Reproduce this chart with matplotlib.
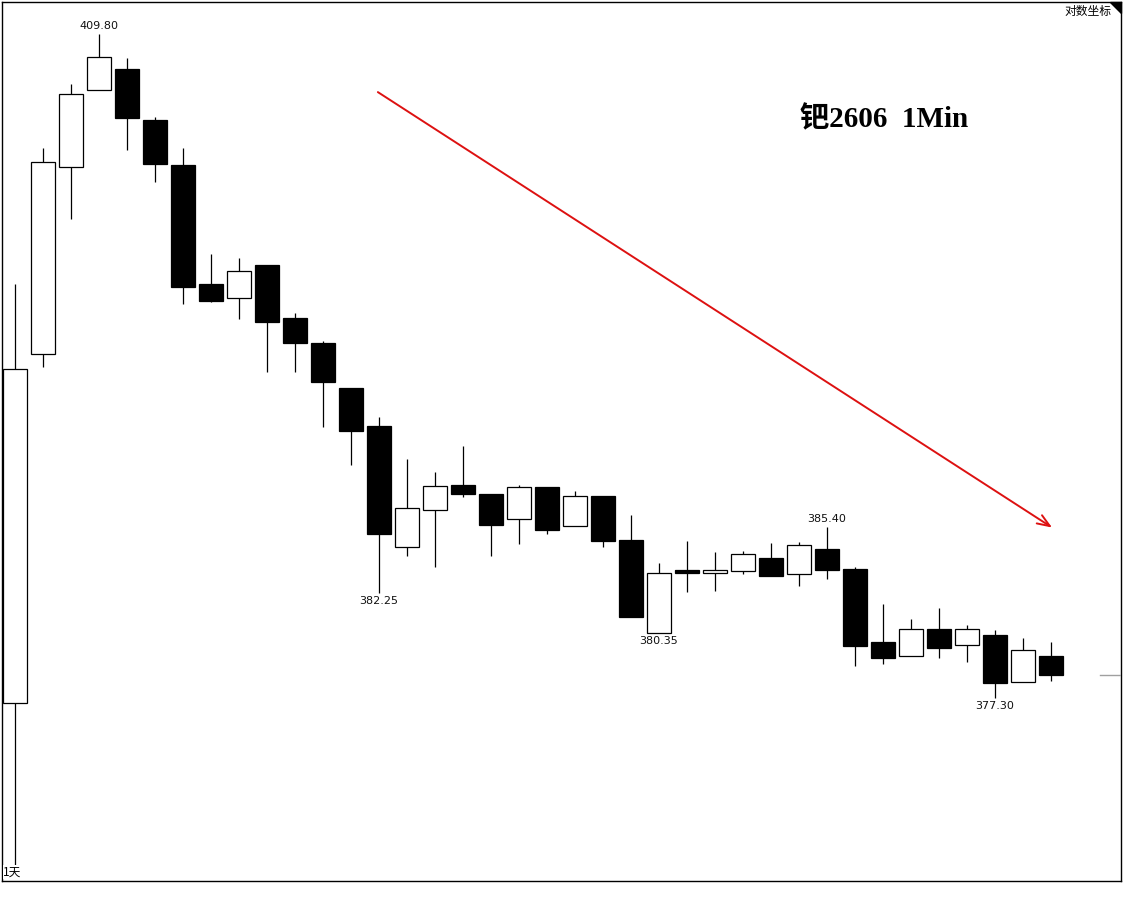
import matplotlib
matplotlib.use("Agg")
import matplotlib.pyplot as plt
from matplotlib.ticker import NullLocator
from matplotlib.patches import Polygon
import matplotlib.transforms as mtransforms

# ---- data (1-minute candles) ----
opens = [377.05, 393.80, 403.05, 406.95, 408.00, 405.45, 403.15, 397.25, 396.55, 398.20,
         395.55, 394.35, 392.15, 390.30, 384.45, 386.20, 387.45, 387.00, 385.80, 387.35,
         385.45, 386.90, 384.80, 380.35, 383.35, 383.20, 383.30, 383.90, 383.15, 384.35,
         383.40, 379.95, 379.25, 380.55, 379.80, 380.25, 378.05, 379.25]
highs = [397.25, 404.05, 407.25, 409.80, 408.60, 405.60, 404.05, 398.75, 398.55, 398.20,
         395.80, 394.45, 392.15, 390.70, 388.70, 388.05, 389.30, 387.00, 387.45, 387.35,
         387.15, 386.90, 386.00, 383.70, 384.75, 384.20, 384.25, 384.65, 384.70, 385.40,
         383.50, 381.75, 381.00, 381.55, 380.75, 380.50, 380.10, 379.95]
lows = [369.45, 393.15, 400.45, 406.95, 403.95, 402.30, 396.25, 396.35, 395.50, 392.90,
        392.90, 390.25, 388.40, 382.25, 384.00, 383.50, 386.85, 384.00, 384.60, 385.05,
        385.45, 384.45, 381.10, 380.35, 382.30, 382.35, 383.15, 383.05, 382.60, 382.90,
        378.80, 378.90, 379.25, 379.15, 379.00, 377.30, 378.05, 378.10]
closes = [393.05, 403.35, 406.75, 408.65, 405.55, 403.20, 397.10, 396.40, 397.90, 395.35,
          394.35, 392.45, 390.05, 385.05, 386.30, 387.40, 387.00, 385.50, 387.35, 385.25,
          386.90, 384.75, 381.10, 383.20, 383.20, 383.35, 384.10, 383.05, 384.55, 383.35,
          379.75, 379.15, 380.55, 379.65, 380.55, 378.00, 379.55, 378.35]

# price labels: (candle index, value, placed at 'high' or 'low')
marks = [(3, "409.80", "high"), (13, "382.25", "low"), (23, "380.35", "low"),
         (29, "385.40", "high"), (35, "377.30", "low")]

title_text = "钯2606  1Min"
scale_text = "对数坐标"
period_text = "1天"

# trend arrow (data coordinates: candle index, price)
arrow_start = (12.96, 406.85)
arrow_end = (37.04, 385.38)

y_limits = (368.79, 411.44)
x_limits = (-0.464, 39.5)

# ---- figure ----
W, H = 1125, 899
fig = plt.figure(figsize=(W / 100, H / 100), dpi=100)
fig.patch.set_facecolor("white")
ax = fig.add_axes([2 / W, 1 - 881 / H, 1119 / W, 879 / H])
ax.set_yscale("log")
ax.set_xlim(*x_limits)
ax.set_ylim(*y_limits)
ax.set_xticks([])
ax.set_yticks([])
ax.xaxis.set_minor_locator(NullLocator())
ax.yaxis.set_minor_locator(NullLocator())
for s in ax.spines.values():
    s.set_linewidth(1.0)
    s.set_color("black")

xs = list(range(len(opens)))
width = 24 / 28
lw = 0.9

# wicks
ax.vlines(xs, lows, highs, colors="black", linewidth=lw, zorder=2)

# bodies
for i in xs:
    o, c = opens[i], closes[i]
    up = c >= o
    bottom = min(o, c)
    height = abs(c - o)
    ax.bar(i, height, width=width, bottom=bottom,
           color="white" if up else "black", edgecolor="black",
           linewidth=lw, zorder=3)

# price labels
for i, txt, where in marks:
    if where == "high":
        ax.annotate(txt, xy=(i, highs[i]), xytext=(0, 2), textcoords="offset points",
                    ha="center", va="bottom", fontsize=8, color="#111111",
                    family="DejaVu Sans", zorder=5)
    else:
        ax.annotate(txt, xy=(i, lows[i]), xytext=(0, -2), textcoords="offset points",
                    ha="center", va="top", fontsize=8, color="#111111",
                    family="DejaVu Sans", zorder=5)

# red trend arrow
ax.annotate("", xy=arrow_end, xytext=arrow_start,
            arrowprops=dict(arrowstyle="->,head_length=0.9,head_width=0.35",
                            color="#dd1111", linewidth=1.4, shrinkA=0, shrinkB=0),
            zorder=6)

# title
ax.text((800 - 2) / 1119, 1 - (120 - 2) / 879, title_text, transform=ax.transAxes,
        ha="left", va="center", fontsize=21, color="black", fontweight="bold",
        family=["Liberation Serif", "Noto Sans CJK SC"])

# top-right labels
ax.text((1111 - 2) / 1119, 1 - (11 - 2) / 879, scale_text, transform=ax.transAxes,
        ha="right", va="center", fontsize=8.5, color="black",
        family=["Noto Sans CJK SC", "DejaVu Sans"])
tri = Polygon([(1 - 11 / 1119, 1), (1, 1), (1, 1 - 11 / 879)], closed=True,
              transform=ax.transAxes, facecolor="black", edgecolor="black", zorder=7,
              clip_on=False)
ax.add_patch(tri)

# period label bottom-left
ax.text(0.001, (881 - 872) / 879, period_text, transform=ax.transAxes,
        ha="left", va="center", fontsize=8.5, color="black",
        family=["Noto Sans CJK SC", "DejaVu Sans"], zorder=8,
        bbox=dict(facecolor="white", edgecolor="none", pad=0.3))

# last price marker on the right
trans = mtransforms.blended_transform_factory(ax.transAxes, ax.transData)
ax.plot([(1100 - 2) / 1119, 1.0], [closes[-1], closes[-1]], color="#a0a0a0",
        linewidth=1.0, transform=trans, zorder=4)

fig.savefig("out.png", dpi=100, facecolor="white")
